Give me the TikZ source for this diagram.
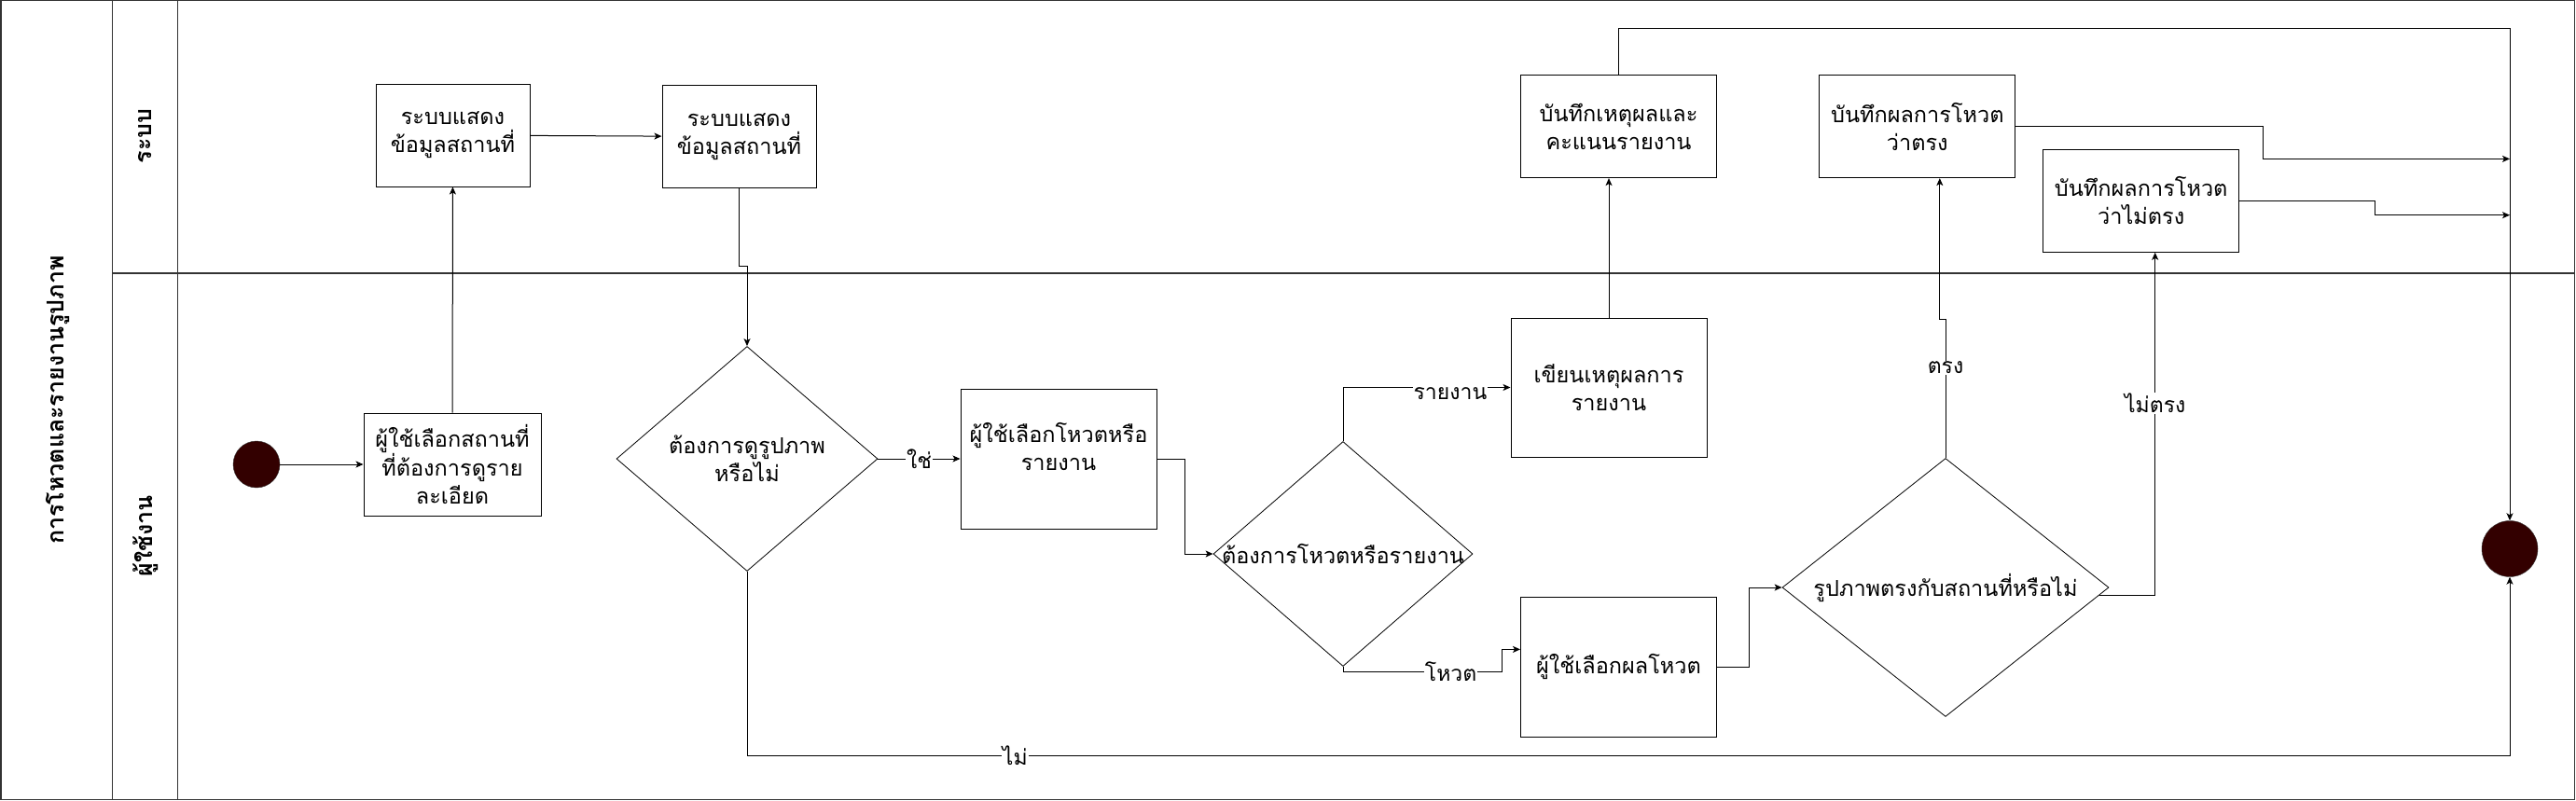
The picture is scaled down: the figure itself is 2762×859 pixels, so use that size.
\documentclass[tikz,border=0pt]{standalone}
\usepackage{fontspec}
\setmainfont[Script=Thai]{Loma}
\usetikzlibrary{arrows.meta,shapes.geometric,calc}
\definecolor{dotfill}{HTML}{330000}

\begin{document}
\begin{tikzpicture}[x=1pt,y=-1pt,
  box/.style={draw,line width=1pt,align=center,inner sep=2pt,font=\fontsize{23.5}{30}\selectfont},
  dec/.style={draw,shape=diamond,line width=.8pt,inner sep=0pt},
  dectext/.style={align=center,font=\fontsize{23.5}{30}\selectfont},
  dot/.style={circle,draw=black!80,fill=dotfill,minimum size=#1,inner sep=0pt},
  lbl/.style={fill=white,inner sep=1pt,font=\fontsize{23}{26}\selectfont},
  lanetitle/.style={rotate=90,font=\bfseries\fontsize{25}{28}\selectfont},
  arr/.style={-{Stealth[length=8pt,width=7pt,inset=2pt]},line width=1pt}]
  \useasboundingbox (0,0) rectangle (2762,859);
  \draw[black!80,line width=1.5pt] (0.75,0.75) rectangle (2760.5,857.5);
  \foreach \lx in {120.5,190.6}
    \draw[black!80,line width=1.5pt] (\lx,0.75) -- (\lx,857.5);
  \draw[black!80,line width=1.5pt] (120.5,293) -- (2760.5,293);
  \node[lanetitle] (pool) at (62,429) {การโหวตและรายงานรูปภาพ};
  \node[lanetitle] (lsys) at (156,146) {ระบบ};
  \node[lanetitle] (luser) at (156,575) {ผู้ใช้งาน};

  \node[dot=50pt] (start) at (275,498) {};
  \node[dot=60pt] (end) at (2691,588.5) {};
  \node[box,minimum width=165,minimum height=110] (sys1) at (485.5,145) {ระบบแสดง\\ข้อมูลสถานที่};
  \node[box,minimum width=165,minimum height=110] (sys2) at (792.5,146.5) {ระบบแสดง\\ข้อมูลสถานที่};
  \node[box,minimum width=190,minimum height=110] (u1) at (485,498) {ผู้ใช้เลือกสถานที่\\ที่ต้องการดูราย\\ละเอียด};
  \node[box,minimum width=210,minimum height=150] (u2) at (1135,492) {ผู้ใช้เลือกโหวตหรือ\\รายงาน\\[-4pt]~};
  \node[box,minimum width=210,minimum height=149] (u3) at (1725,415.5) {เขียนเหตุผลการ\\รายงาน};
  \node[box,minimum width=210,minimum height=150] (u4) at (1735.5,715.4) {ผู้ใช้เลือกผลโหวต};
  \node[box,minimum width=210,minimum height=110] (sys3) at (1735.5,135.6) {บันทึกเหตุผลและ\\คะแนนรายงาน};
  \node[box,minimum width=210,minimum height=110] (sys4) at (2055.8,135.6) {บันทึกผลการโหวต\\ว่าตรง};
  \node[box,minimum width=210,minimum height=110] (sys5) at (2295.7,215.3) {บันทึกผลการโหวต\\ว่าไม่ตรง};
  \node[dec,minimum width=280,minimum height=241] (d1) at (801,492) {};
  \node[dectext] (d1t) at (d1) {ต้องการดูรูปภาพ\\หรือไม่};
  \node[dec,minimum width=278,minimum height=241] (d2) at (1440,594) {};
  \node[dectext] (d2t) at (d2) {ต้องการโหวตหรือรายงาน};
  \node[dec,minimum width=350,minimum height=277] (d3) at (2086,630) {};
  \node[dectext] (d3t) at (d3) {รูปภาพตรงกับสถานที่หรือไม่};
  \coordinate (nb) at (2691,810);
  \coordinate (j1) at (2691,170.4);
  \coordinate (j2) at (2691,230.7);

  \draw[arr] (start) -- (u1);
  \draw[arr] (u1) -- (sys1);
  \draw[arr] (sys1) -- (sys2);
  \draw[arr] (sys2.south) -- ++(0,83.5) -| (d1.north);
  \draw[arr] (d1.east) -- node[lbl]{ใช่} (u2.west);
  \draw[arr] (d1.south) |- node[lbl,pos=.576]{ไม่} (nb) -- (end.south);
  \draw[arr] (u2.east) -- ++(30,0) |- (d2.west);
  \draw[arr] (d2.north) |- node[lbl,pos=.82,yshift=-7]{รายงาน} (u3.west);
  \draw[arr] (d2.south) -- ++(0,5.5) -| node[lbl,pos=.34]{โหวต} ($(u4.west)+(-20,-19)$) -- ($(u4.west)+(0,-19)$);
  \draw[arr] (u3.north) -- (u3.north |- sys3.south);
  \draw[arr] (sys3.north) -- ++(0,-50) -| (end.north);
  \draw[arr] (u4.east) -- ++(34,0) |- (d3.west);
  \draw[arr] (d3.north) -- node[lbl,pos=.65]{ตรง} ++(0,-149) -| ($(sys4.south)+(24,0)$);
  \draw[arr] (d3.-3.6) -| node[lbl,pos=.78]{ไม่ตรง} ($(sys5.south)+(15,0)$);
  \draw[arr] (sys4.east) -- ++(265,0) |- (j1);
  \draw[arr] (sys5.east) -- ++(145,0) |- (j2);
\end{tikzpicture}
\end{document}
